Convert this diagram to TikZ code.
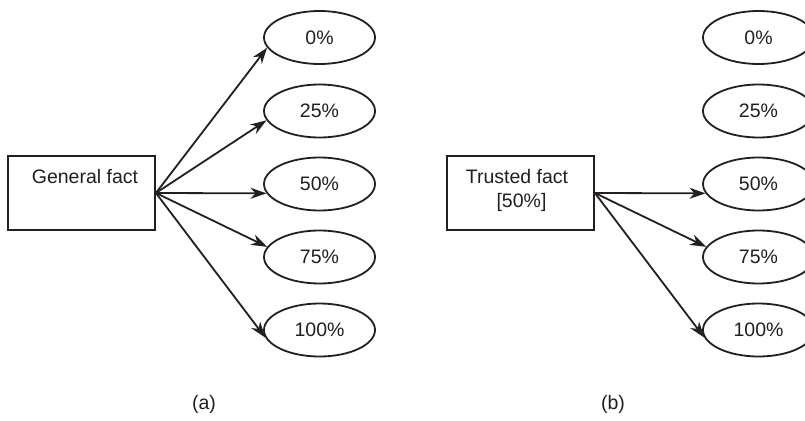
\documentclass[tikz,border=0pt]{standalone}
\usepackage{fontspec}
\setmainfont{Liberation Sans}
\usetikzlibrary{shapes.geometric,arrows.meta}
\definecolor{ink}{HTML}{231F20}
\begin{document}
\begin{tikzpicture}[x=1pt,y=-1pt,
  every node/.style={font=\fontsize{19.5}{24}\selectfont, text=ink},
  factbox/.style={draw=ink, line width=1.8pt, rectangle, minimum width=147pt, minimum height=74pt, inner sep=0pt},
  pct/.style={draw=ink, line width=1.8pt, ellipse, minimum width=111pt, minimum height=53pt, inner sep=0pt},
  txt/.style={inner sep=0pt, anchor=base},
  conn/.style={draw=ink, line width=1.8pt, -{Stealth[length=16pt,width=11pt,inset=5pt]}}]
\path[use as bounding box, fill=white] (0,0) rectangle (805,420);
\clip (0,0) rectangle (805,420);
% (a)
\node[factbox] (ga) at (81.5,193) {};
\node[txt] (gat) at (85,183) {General fact};
\node[pct] (a0) at (319.5,37.5) {0\%};
\node[pct] (a25) at (319.5,111) {25\%};
\node[pct] (a50) at (319.5,184) {50\%};
\node[pct] (a75) at (319.5,257) {75\%};
\node[pct] (a100) at (319.5,330) {100\%};
\draw[conn] (ga.east) -- (a0.191);
\draw[conn] (ga.east) -- (a25.190);
\draw[conn] (ga.east) -- (a50.190);
\draw[conn] (ga.east) -- (a75.169);
\draw[conn] (ga.east) -- (a100.188);
\node[txt] (la) at (204,409) {(a)};
% (b)
\node[factbox] (tb) at (520.5,193) {};
\node[txt] (tbt1) at (517,183) {Trusted fact};
\node[txt] (tbt2) at (521.5,207) {[50\%]};
\node[pct] (b0) at (758.5,37.5) {0\%};
\node[pct] (b25) at (758.5,111) {25\%};
\node[pct] (b50) at (758.5,184) {50\%};
\node[pct] (b75) at (758.5,257) {75\%};
\node[pct] (b100) at (758.5,330) {100\%};
\draw[conn] (tb.east) -- (b50.190);
\draw[conn] (tb.east) -- (b75.169);
\draw[conn] (tb.east) -- (b100.188);
\node[txt] (lb) at (613,409) {(b)};
\end{tikzpicture}
\end{document}
